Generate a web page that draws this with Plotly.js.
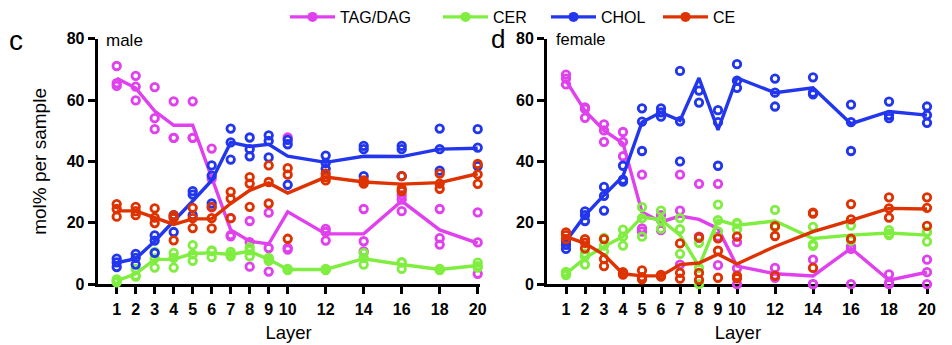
<!DOCTYPE html>
<html><head><meta charset="utf-8">
<script src="https://cdn.plot.ly/plotly-3.0.1.min.js"></script>
<style>html,body{margin:0;padding:0;background:#fff}#chart{width:952px;height:345px}</style>
</head><body><div id="chart"></div>
<script>
const layers = [1,2,3,4,5,6,7,8,9,10,12,14,16,18,20];
const seriesNames = ['TAG/DAG','CER','CHOL','CE'];
const seriesColors = ['#e040ee','#80ee40','#2236ee','#de3300'];

// male: individual samples per layer
const maleTAG = [[71.1,65.5,64.6],[67.9,64.4,59.9],[64.2,54.1,50.5],[59.6,47.7,47.7],[59.6,47.7,47.7],[44.2,34.4,25.0],[21.5,16.0,15.6],[20.6,13.7,5.7],[23.3,11.8,4.1],[47.8,11.8,11.3],[18.0,17.0,14.2],[24.5,14.0,10.7],[29.0,27.6,23.8],[24.5,15.0,12.9],[23.4,13.6,3.4]];
const maleCER = [[1.6,1.1,0.6],[5.0,2.8,2.5],[10.5,8.4,5.4],[10.2,8.6,5.4],[12.7,9.7,7.6],[11.0,10.8,8.8],[10.5,9.7,9.1],[12.0,11.0,9.1],[8.6,8.1,7.6],[5.0,4.8,4.6],[5.0,4.8,4.6],[10.2,8.6,6.4],[7.2,7.0,5.0],[5.0,4.8,4.6],[7.0,5.9,5.4]];
const maleCHOL = [[8.3,7.1,5.6],[9.9,8.6,6.4],[15.9,14.2,10.2],[22.5,21.7,17.0],[30.3,29.2,22.5],[38.7,35.4,26.3],[50.7,46.2,40.6],[47.8,44.0,41.7],[48.5,46.7,41.3],[47.0,45.6,32.4],[41.9,39.5,37.6],[45.1,44.0,35.2],[45.1,44.0,35.2],[50.7,44.0,37.0],[50.5,44.5,38.5]];
const maleCE = [[26.1,24.5,22.0],[25.2,23.8,22.5],[24.7,21.7,19.9],[22.5,21.5,14.3],[24.9,21.5,18.3],[25.2,21.5,18.2],[30.1,27.9,21.5],[34.9,32.8,25.2],[38.7,33.3,26.3],[37.8,35.7,14.8],[36.0,34.9,33.8],[33.8,33.3,32.8],[35.2,31.1,30.3],[36.0,32.8,31.1],[39.2,35.8,32.7]];
// male: mean lines
const maleTAGmean = [67.1,63.9,56.4,51.8,51.8,34.5,17.7,14.0,13.1,23.6,16.4,16.4,27.1,17.7,13.4];
const maleCERmean = [1.1,3.4,8.1,8.1,10.0,10.2,9.7,10.7,8.1,4.8,4.8,8.3,6.4,4.8,6.1];
const maleCHOLmean = [7.0,8.3,14.0,20.4,27.1,33.8,46.2,44.9,45.6,41.7,39.7,41.7,41.6,44.0,44.3];
const maleCEmean = [23.9,23.9,21.7,19.5,21.3,21.3,26.3,30.6,33.0,29.7,34.9,33.3,32.6,33.1,36.0];

// female: individual samples per layer
const femaleTAG = [[68.3,67.0,65.1],[57.6,57.1,54.2],[52.1,50.1,46.4],[49.6,46.4,41.7],[35.7,18.2,17.1],[22.5,20.8,17.6],[35.7,24.0,6.4],[32.7,15.5,15.0],[32.7,15.5,6.2],[13.7,5.2,0],[5.3,2.9,2.1],[8.0,0,0],[12.3,11.5,0],[3.2,0.5,0],[8.0,3.9,0]];
const femaleCER = [[4.0,3.4,3.0],[10.0,9.1,6.4],[15.1,12.6,10.7],[17.8,15.5,12.6],[25.1,21.5,15.5],[24.0,20.8,18.1],[21.5,17.9,9.9],[13.5,5.3,0],[25.9,20.9,17.2],[20.0,19.7,17.9],[24.2,19.0,18.6],[18.7,13.0,12.5],[19.1,14.4,14.2],[17.6,16.5,16.0],[17.1,16.9,13.9]];
const femaleCHOL = [[13.9,12.8,11.5],[23.7,22.5,20.6],[31.7,28.8,24.0],[38.6,34.1,33.4],[57.3,53.0,43.4],[57.3,56.0,54.6],[69.5,53.1,40.0],[80.3,63.1,59.2],[56.7,52.8,38.6],[71.7,66.3,64.0],[67.0,62.4,57.9],[67.4,62.4,61.9],[58.5,52.8,43.4],[59.5,55.1,54.1],[57.9,55.1,52.6]];
const femaleCE = [[16.9,16.0,14.7],[14.7,13.5,11.7],[14.7,8.2,5.9],[3.9,3.5,3.1],[4.5,2.3,1.6],[3.0,2.7,2.5],[13.3,3.7,1.8],[15.3,3.7,1.4],[14.9,10.9,2.1],[15.5,2.7,1.9],[18.9,15.7,2.7],[23.3,23.0,5.3],[26.1,21.1,14.8],[28.3,24.7,21.7],[28.3,24.9,19.0]];
// female: mean lines
const femaleTAGmean = [66.3,56.5,50.1,45.9,23.5,20.3,22.2,21.1,18.1,5.9,3.4,2.7,11.7,1.3,3.9];
const femaleCERmean = [3.4,8.5,12.3,15.5,21.9,21.0,16.0,5.8,20.9,19.2,20.6,14.9,16.0,16.7,16.0];
const femaleCHOLmean = [14.0,22.4,29.0,35.2,52.8,56.0,53.3,67.2,50.3,67.2,62.4,64.0,52.3,56.3,55.1];
const femaleCEmean = [15.5,13.3,9.6,3.4,2.7,2.7,6.4,6.9,9.8,6.6,12.3,17.1,20.8,24.7,24.5];

const FONT = 'Liberation Sans, Arial, Helvetica, sans-serif';

function pointTrace(samples, color, xa, ya) {
  const xs = [], ys = [];
  samples.forEach((vals, i) => vals.forEach(v => { xs.push(layers[i]); ys.push(v); }));
  return {type:'scatter', mode:'markers', x:xs, y:ys, xaxis:xa, yaxis:ya,
    marker:{symbol:'circle-open', size:7.5, color:color, line:{width:2.8, color:color}},
    showlegend:false, cliponaxis:false, hoverinfo:'skip'};
}
function meanTrace(means, color, xa, ya) {
  return {type:'scatter', mode:'lines', x:layers, y:means, xaxis:xa, yaxis:ya,
    line:{color:color, width:3.4}, showlegend:false, cliponaxis:false, hoverinfo:'skip'};
}

const malePts = [maleTAG, maleCER, maleCHOL, maleCE];
const maleMeans = [maleTAGmean, maleCERmean, maleCHOLmean, maleCEmean];
const femalePts = [femaleTAG, femaleCER, femaleCHOL, femaleCE];
const femaleMeans = [femaleTAGmean, femaleCERmean, femaleCHOLmean, femaleCEmean];

const traces = [];
for (let k = 0; k < 4; k++) {
  traces.push(pointTrace(malePts[k], seriesColors[k], 'x', 'y'));
  traces.push(meanTrace(maleMeans[k], seriesColors[k], 'x', 'y'));
}
for (let k = 0; k < 4; k++) {
  traces.push(pointTrace(femalePts[k], seriesColors[k], 'x2', 'y2'));
  traces.push(meanTrace(femaleMeans[k], seriesColors[k], 'x2', 'y2'));
}
// legend entries
const legendX = [285, 438, 546, 658];
for (let k = 0; k < 4; k++) {
  traces.push({type:'scatter', mode:'lines+markers', x:[null], y:[null], name:seriesNames[k],
    legend: k === 0 ? 'legend' : 'legend' + (k + 1),
    marker:{size:10, color:seriesColors[k]}, line:{color:seriesColors[k], width:3.4},
    showlegend:true, hoverinfo:'skip'});
}

function xAxis(domain, anchor) {
  return {domain:domain, anchor:anchor, range:[0,20.1], tickmode:'array', tickvals:layers,
    ticktext:layers.map(String), ticks:'outside', ticklen:7, tickwidth:3, tickcolor:'#000',
    showline:true, linewidth:3, linecolor:'#000', showgrid:false, zeroline:false,
    layer:'below traces', fixedrange:true, ticklabelstandoff:2,
    tickfont:{family:FONT, size:16, color:'#000', weight:'bold'},
    title:{text:'Layer', font:{family:FONT, size:18.5, color:'#000'}, standoff:9}};
}
function yAxis(domain, anchor, withTitle) {
  const a = {domain:domain, anchor:anchor, range:[0,80], tickmode:'array', tickvals:[0,20,40,60,80],
    ticks:'outside', ticklen:7, tickwidth:3, tickcolor:'#000',
    showline:true, linewidth:3, linecolor:'#000', showgrid:false, zeroline:false,
    layer:'below traces', fixedrange:true,
    tickfont:{family:FONT, size:16, color:'#000', weight:'bold'}};
  if (withTitle) a.title = {text:'mol% per sample', font:{family:FONT, size:19, color:'#000'}, standoff:16};
  return a;
}

const W = 952, H = 345;
const yDom = [(H-283.3)/H, (H-34.2)/H];
const layout = {
  width:W, height:H, margin:{l:0, r:0, t:0, b:0}, paper_bgcolor:'#fff', plot_bgcolor:'rgba(0,0,0,0)',
  font:{family:FONT, color:'#000'},
  xaxis: xAxis([97.7/W, 479.6/W], 'y'),
  yaxis: yAxis(yDom, 'x', true),
  xaxis2: xAxis([547/W, 928.9/W], 'y2'),
  yaxis2: yAxis(yDom, 'x2', false),
  annotations:[
    {text:'c', xref:'paper', yref:'paper', x:16/W, y:(H-36)/H, xanchor:'center', yanchor:'middle', showarrow:false, font:{family:FONT, size:28, color:'#000'}},
    {text:'d', xref:'paper', yref:'paper', x:498/W, y:(H-34)/H, xanchor:'center', yanchor:'middle', showarrow:false, font:{family:FONT, size:26, color:'#000'}},
    {text:'male', xref:'paper', yref:'paper', x:104/W, y:(H-36)/H, xanchor:'left', yanchor:'middle', showarrow:false, font:{family:FONT, size:17, color:'#000'}},
    {text:'female', xref:'paper', yref:'paper', x:554/W, y:(H-34)/H, xanchor:'left', yanchor:'middle', showarrow:false, font:{family:FONT, size:16.5, color:'#000'}}
  ]
};
const legendBase = {y:(H-12)/H, xanchor:'left', yanchor:'middle', orientation:'h',
  font:{family:FONT, size:16, color:'#000'}, bgcolor:'rgba(0,0,0,0)', borderwidth:0, itemwidth:45};
layout.legend = Object.assign({}, legendBase, {x:legendX[0]/W});
layout.legend2 = Object.assign({}, legendBase, {x:legendX[1]/W});
layout.legend3 = Object.assign({}, legendBase, {x:legendX[2]/W});
layout.legend4 = Object.assign({}, legendBase, {x:legendX[3]/W});

Plotly.newPlot('chart', traces, layout, {displayModeBar:false, staticPlot:true});
</script></body></html>
